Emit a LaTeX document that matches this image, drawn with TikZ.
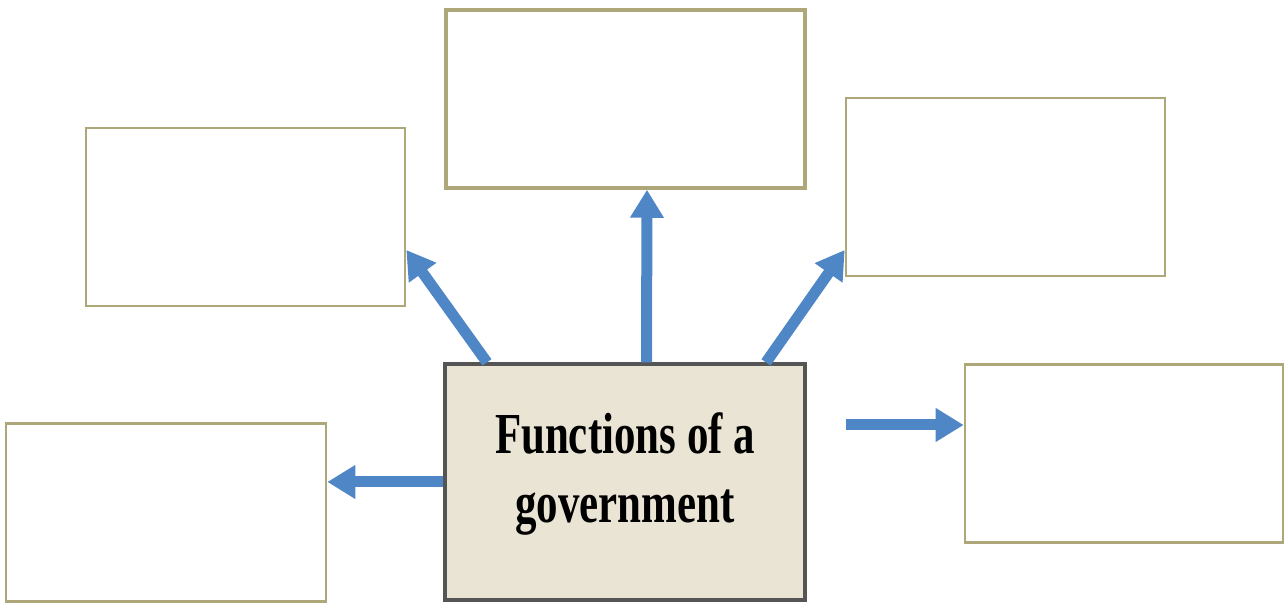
\documentclass[tikz,border=0pt]{standalone}
\usepackage{fontspec}
\setmainfont{Liberation Serif}
\usetikzlibrary{arrows.meta}

\definecolor{boxline}{HTML}{ADA77A}
\definecolor{govfill}{HTML}{E9E4D4}
\definecolor{govline}{HTML}{555555}
\definecolor{arrowblue}{HTML}{4F86C6}

\tikzset{
  funcbox/.style={draw=boxline, line width=0.75pt, fill=white, inner sep=0pt,
    minimum width=3.19cm, minimum height=1.78cm},
  govbox/.style={draw=govline, line width=0.9pt, fill=govfill, inner sep=0pt,
    minimum width=3.6cm, minimum height=2.36cm},
  govtext/.style={align=center, inner sep=0pt,
    font=\fontsize{16.5}{18.4}\selectfont\bfseries},
  bigarrow/.style={draw=arrowblue, line width=0.11cm,
    -{Triangle[width=0.32cm, length=0.28cm]}}
}

\begin{document}
\begin{tikzpicture}

\useasboundingbox (0, 0) rectangle (12.86, 6.04);

%Draw boxes
\node[funcbox, minimum width=3.59cm, line width=1pt] (top) at (6.255, 5.05) {};
\node[funcbox] (upleft) at (2.455, 3.87) {};
\node[funcbox] (upright) at (10.055, 4.17) {};
\node[funcbox, minimum width=3.2cm] (lowleft) at (1.66, 0.915) {};
\node[funcbox, minimum width=3.18cm] (lowright) at (11.24, 1.505) {};

\node[govbox] (gov) at (6.25, 1.22) {};
\node[govtext] (govlabel) at ([yshift=0.08cm]gov.center)
  {\scalebox{0.74}[1]{Functions of a}\\[0.05cm]\scalebox{0.74}[1]{government}};

%Draw arrows
\coordinate (rstart) at (8.46, 1.79);

\draw[bigarrow] ([xshift=-1.38cm]gov.north) -- ([yshift=-0.33cm]upleft.east);
\draw[bigarrow] ([xshift=0.215cm]gov.north) -- ([xshift=0.215cm]top.south);
\draw[bigarrow] ([xshift=1.41cm]gov.north) -- ([yshift=-0.63cm]upright.west);
\draw[bigarrow] (gov.west) -- (gov.west -| lowleft.east);
\draw[bigarrow] (rstart) -- (rstart -| lowright.west);

\end{tikzpicture}
\end{document}
